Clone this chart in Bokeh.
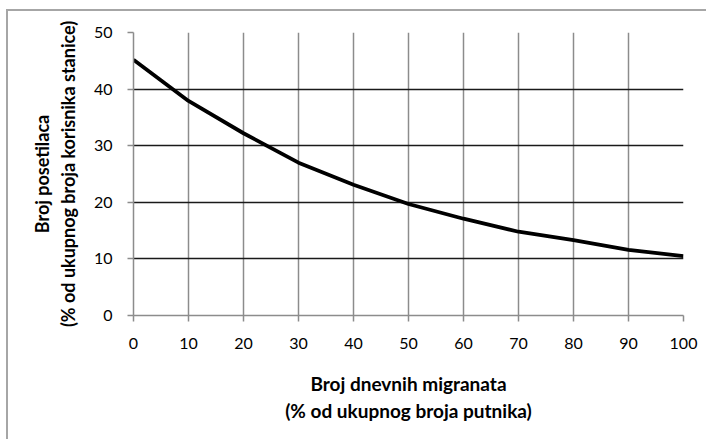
from bokeh.plotting import figure
from bokeh.models import Range1d, FixedTicker
from bokeh.embed import file_html
from bokeh.resources import INLINE

# Data
migrants_pct = [0, 10, 20, 30, 40, 50, 60, 70, 80, 90, 100]
visitors_pct = [45.2, 37.9, 32.2, 27.0, 23.1, 19.7, 17.1, 14.8, 13.3, 11.6, 10.5]
x_ticks = [0, 10, 20, 30, 40, 50, 60, 70, 80, 90, 100]
y_ticks = [0, 10, 20, 30, 40, 50]
x_title = "Broj dnevnih migranata\n(% od ukupnog broja putnika)"
y_title = "Broj posetilaca\n(% od ukupnog broja korisnika stanice)"

FONT = "Lato"

p = figure(width=700, height=430, output_backend="svg", toolbar_location=None,
           x_range=Range1d(0, 100), y_range=Range1d(0, 50),
           min_border_left=125, min_border_right=25, min_border_top=21, min_border_bottom=126)
p.styles = {"border-left": "2px solid #a6a6a6", "border-top": "2px solid #a6a6a6",
            "margin-left": "6px", "margin-top": "9px"}
p.outline_line_color = None
p.background_fill_color = "white"
p.border_fill_color = "white"

# grids
p.xgrid.ticker = FixedTicker(ticks=x_ticks[1:])
p.ygrid.ticker = FixedTicker(ticks=y_ticks[1:])
p.xgrid.grid_line_color = "#8c8c8c"
p.xgrid.grid_line_width = 1.5
p.ygrid.grid_line_color = "#1a1a1a"
p.ygrid.grid_line_width = 1.4

for ax, ticks in ((p.xaxis[0], x_ticks), (p.yaxis[0], y_ticks)):
    ax.ticker = FixedTicker(ticks=ticks)
    ax.axis_line_color = "#8c8c8c"
    ax.axis_line_width = 1.5
    ax.major_tick_line_color = "#8c8c8c"
    ax.major_tick_line_width = 1.5
    ax.major_tick_in = 0
    ax.major_tick_out = 6
    ax.minor_tick_line_color = None
    ax.major_label_text_font = FONT
    ax.major_label_text_font_size = "16px"
    ax.major_label_text_color = "#000000"
    ax.axis_label_text_font = FONT
    ax.axis_label_text_font_style = "bold"
    ax.axis_label_text_color = "#000000"

p.xaxis.axis_label_text_font_size = "19px"
p.yaxis.axis_label_text_font_size = "18px"
p.xaxis.axis_label = x_title
p.yaxis.axis_label = y_title
p.xaxis.major_label_standoff = 16
p.yaxis.major_label_standoff = 15
p.xaxis.axis_label_standoff = 20
p.yaxis.axis_label_standoff = 12

p.line(migrants_pct, visitors_pct, line_color="black", line_width=3.8, line_join="round")

open("out.html", "w").write(file_html(p, INLINE))
